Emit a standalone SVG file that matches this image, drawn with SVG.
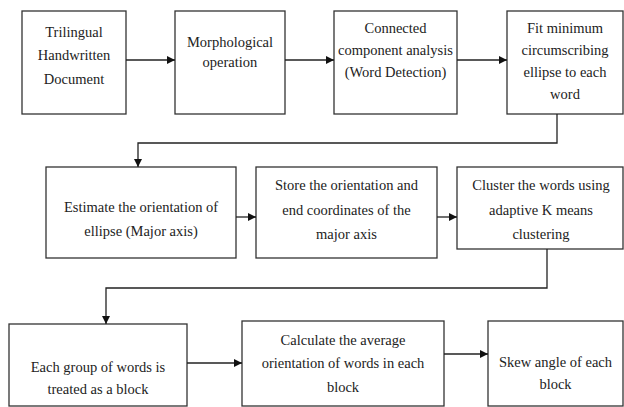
<svg xmlns="http://www.w3.org/2000/svg" width="624" height="407" viewBox="0 0 624 407" font-family="Liberation Serif, DejaVu Serif, serif">
<style>
.box{fill:#fff;stroke:#333;stroke-width:1.3}
.t{font-size:14.5px;fill:#222;text-anchor:middle}
.c{fill:none;stroke:#222;stroke-width:1.3}
</style>
<defs>
<marker id="ah" viewBox="0 0 10 10" refX="10" refY="5" markerWidth="8" markerHeight="8" markerUnits="userSpaceOnUse" orient="auto">
<path d="M0,0 L10,5 L0,10 Z" fill="#111"/>
</marker>
</defs>
<rect width="624" height="407" fill="#fff"/>
<g id="n1"><rect class="box" x="22" y="11" width="104" height="103"/>
<text class="t" x="74" y="37">Trilingual</text><text class="t" x="74" y="60">Handwritten</text><text class="t" x="74" y="84">Document</text></g>
<g id="n2"><rect class="box" x="175" y="11" width="110" height="103"/>
<text class="t" x="230" y="47">Morphological</text><text class="t" x="230" y="67">operation</text></g>
<g id="n3"><rect class="box" x="334" y="11" width="123" height="103"/>
<text class="t" x="395.5" y="33">Connected</text><text class="t" x="395.5" y="55">component analysis</text><text class="t" x="395.5" y="77">(Word Detection)</text></g>
<g id="n4"><rect class="box" x="507" y="11" width="116" height="103"/>
<text class="t" x="565" y="33">Fit minimum</text><text class="t" x="565" y="55">circumscribing</text><text class="t" x="565" y="77">ellipse to each</text><text class="t" x="565" y="99">word</text></g>
<g id="n5"><rect class="box" x="46" y="167" width="190" height="91"/>
<text class="t" x="141" y="212">Estimate the orientation of</text><text class="t" x="141" y="236">ellipse (Major axis)</text></g>
<g id="n6"><rect class="box" x="256" y="167" width="181" height="91"/>
<text class="t" x="346.5" y="190">Store the orientation and</text><text class="t" x="346.5" y="215">end coordinates of the</text><text class="t" x="346.5" y="239">major axis</text></g>
<g id="n7"><rect class="box" x="457" y="167" width="166" height="82"/>
<text class="t" x="541" y="190">Cluster the words using</text><text class="t" x="541" y="215">adaptive K means</text><text class="t" x="541" y="239">clustering</text></g>
<g id="n8"><rect class="box" x="9" y="324" width="178" height="82"/>
<text class="t" x="98" y="372">Each group of words is</text><text class="t" x="98" y="394">treated as a block</text></g>
<g id="n9"><rect class="box" x="242" y="321" width="202" height="85"/>
<text class="t" x="343" y="345">Calculate the average</text><text class="t" x="343" y="368">orientation of words in each</text><text class="t" x="343" y="392">block</text></g>
<g id="n10"><rect class="box" x="488" y="321" width="135" height="85"/>
<text class="t" x="555.5" y="367">Skew angle of each</text><text class="t" x="555.5" y="389">block</text></g>
<g id="connectors">
<path class="c" d="M126,60 H175" marker-end="url(#ah)"/>
<path class="c" d="M285,60 H334" marker-end="url(#ah)"/>
<path class="c" d="M457,60 H507" marker-end="url(#ah)"/>
<path class="c" d="M557,114 V143 H138 V167" marker-end="url(#ah)"/>
<path class="c" d="M236,217 H256" marker-end="url(#ah)"/>
<path class="c" d="M437,217 H457" marker-end="url(#ah)"/>
<path class="c" d="M547,249 V288 H106 V324" marker-end="url(#ah)"/>
<path class="c" d="M187,363 H242" marker-end="url(#ah)"/>
<path class="c" d="M444,354 H488" marker-end="url(#ah)"/>
</g>
</svg>
